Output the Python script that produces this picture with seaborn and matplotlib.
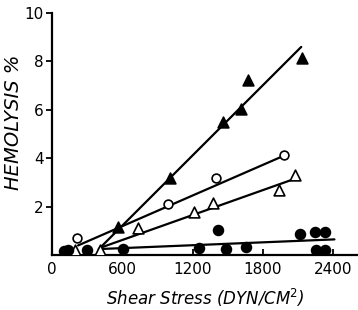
import matplotlib
matplotlib.use("Agg")
import matplotlib.pyplot as plt
import seaborn as sns
import pandas as pd

# filled triangles
tri_fill_x = [566, 1011, 1457, 1611, 1670, 2134]
tri_fill_y = [1.15, 3.2, 5.5, 6.05, 7.25, 8.15]
# open circles
circ_open_x = [214, 986, 1397, 1980]
circ_open_y = [0.7, 2.12, 3.2, 4.12]
# open triangles
tri_open_x = [197, 411, 737, 1209, 1371, 1937, 2074]
tri_open_y = [0.2, 0.2, 1.1, 1.8, 2.15, 2.7, 3.3]
# filled circles
circ_fill_x = [100, 140, 300, 609, 1253, 1413, 1483, 1654, 2117, 2246, 2331, 2254, 2331]
circ_fill_y = [0.15, 0.2, 0.2, 0.25, 0.3, 1.03, 0.25, 0.33, 0.87, 0.95, 0.95, 0.2, 0.2]

# fitted lines (end points)
fit_tri_fill_x, fit_tri_fill_y = [400, 2126], [0.25, 8.6]
fit_circ_open_x, fit_circ_open_y = [223, 1975], [0.4, 4.1]
fit_tri_open_x, fit_tri_open_y = [411, 2040], [0.3, 3.1]
fit_circ_fill_x, fit_circ_fill_y = [400, 2409], [0.25, 0.65]

sns.set_style("ticks", {'axes.edgecolor': 'black', 'text.color': 'black',
                        'xtick.color': 'black', 'ytick.color': 'black',
                        'axes.labelcolor': 'black'})
plt.rcParams['font.family'] = ['DejaVu Sans']

fig = plt.figure(figsize=(3.58, 3.10), dpi=100)
ax = fig.add_axes([0.145, 0.177, 0.855, 0.781])

for fx, fy in [(fit_tri_fill_x, fit_tri_fill_y), (fit_circ_open_x, fit_circ_open_y),
               (fit_tri_open_x, fit_tri_open_y), (fit_circ_fill_x, fit_circ_fill_y)]:
    sns.lineplot(x=fx, y=fy, ax=ax, color='black', linewidth=1.6, zorder=1)

series = [
    (tri_fill_x, tri_fill_y, '^', 'black', 60),
    (circ_open_x, circ_open_y, 'o', 'white', 40),
    (tri_open_x, tri_open_y, '^', 'white', 60),
    (circ_fill_x, circ_fill_y, 'o', 'black', 50),
]
for sx, sy, m, fc, s in series:
    df = pd.DataFrame({'x': sx, 'y': sy})
    sns.scatterplot(data=df, x='x', y='y', ax=ax, marker=m, s=s,
                    color=fc, edgecolor='black', linewidth=1.2, zorder=3)

ax.set_xlim(0, 2610)
ax.set_ylim(0, 10)
ax.set_xticks([0, 600, 1200, 1800, 2400])
ax.set_yticks([2, 4, 6, 8, 10])
ax.tick_params(axis='x', direction='in', length=4, width=1.3, labelsize=11, pad=5)
ax.tick_params(axis='y', direction='out', length=4, width=1.3, labelsize=11, pad=2)
for sp in ['left', 'bottom']:
    ax.spines[sp].set_linewidth(1.6)
sns.despine(ax=ax)
ax.set_xlabel('Shear Stress (DYN/CM$^2$)', fontsize=12, fontstyle='italic', labelpad=7)
ax.set_ylabel('HEMOLYSIS %', fontsize=14, fontstyle='italic', labelpad=2)
ax.yaxis.set_label_coords(-0.095, 0.55)

fig.savefig('out.png', dpi=100)
